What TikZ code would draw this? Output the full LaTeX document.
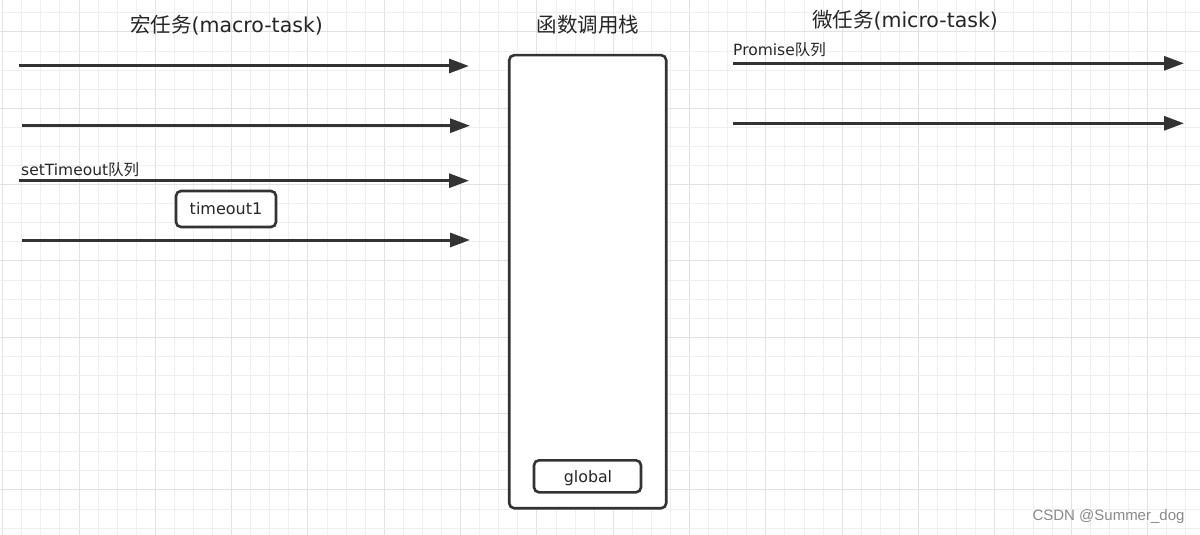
\documentclass[tikz,border=0pt]{standalone}
\usepackage{fontspec}
\setmainfont{DejaVu Sans}
\newfontfamily\cjk{Noto Sans CJK SC}
\newfontfamily\wmfont{Liberation Sans}
\usetikzlibrary{arrows.meta}
\definecolor{ink}{HTML}{333333}
\definecolor{txt}{HTML}{262626}
\definecolor{gminor}{HTML}{EFEFEF}
\definecolor{gmajor}{HTML}{E2E2E2}
\definecolor{wm}{HTML}{8A8A8A}
\tikzset{
  arr/.style={draw=ink, line width=3pt, -{Triangle[length=20pt,width=14pt]}},
  boxed/.style={draw=ink, line width=2.6pt, rounded corners=5pt, fill=white, inner sep=0pt, text=txt},
  titletext/.style={text=txt, inner sep=0pt, font=\fontsize{20.5}{24}\selectfont},
  labeltext/.style={text=txt, inner sep=0pt, font=\fontsize{15.5}{18}\selectfont},
}
\begin{document}
\begin{tikzpicture}[x=1pt,y=-1pt]
\useasboundingbox (0,0) rectangle (1200,535);
\fill[white] (0,0) rectangle (1200,535);
% grid
\foreach \k in {0,...,62} {
  \pgfmathsetmacro{\xx}{2.7+19.08*\k}
  \pgfmathtruncatemacro{\m}{mod(\k,4)}
  \ifnum\m=0 \draw[gmajor, line width=1pt] (\xx,0) -- (\xx,535);
  \else \draw[gminor, line width=1pt] (\xx,0) -- (\xx,535); \fi
}
\foreach \k in {-1,...,26} {
  \pgfmathsetmacro{\yy}{32+19.08*\k}
  \pgfmathtruncatemacro{\m}{mod(\k+4,4)}
  \ifnum\m=0 \draw[gmajor, line width=1pt] (0,\yy) -- (1200,\yy);
  \else \draw[gminor, line width=1pt] (0,\yy) -- (1200,\yy); \fi
}
% titles
\node[titletext] (tmacro) at (226.5,25) {{\cjk 宏任务}(macro-task)};
\node[titletext] (tstack) at (588,25) {\cjk 函数调用栈};
\node[titletext] (tmicro) at (905,20) {{\cjk 微任务}(micro-task)};
% left arrows
\coordinate (l1s) at (19,66);  \coordinate (l1e) at (469,66);
\coordinate (l2s) at (22,125.7); \coordinate (l2e) at (470,125.7);
\coordinate (l3s) at (19,180.7); \coordinate (l3e) at (469,180.7);
\coordinate (l4s) at (22,240); \coordinate (l4e) at (470,240);
\draw[arr] (l1s) -- (l1e);
\draw[arr] (l2s) -- (l2e);
\draw[arr] (l3s) -- (l3e);
\draw[arr] (l4s) -- (l4e);
\node[labeltext, anchor=west] (lset) at (21,170) {setTimeout{\cjk 队列}};
\node[boxed, minimum width=100pt, minimum height=36pt, font=\fontsize{16}{19}\selectfont] (timeout) at (226,209) {timeout1};
% stack
\node[boxed, minimum width=157pt, minimum height=453pt] (stack) at (587.7,281.7) {};
\node[boxed, minimum width=107pt, minimum height=32pt] (global) at (587.5,476.3) {};
\node[text=txt, inner sep=0pt, font=\fontsize{15.8}{19}\selectfont] (globaltext) at (588,478) {global};
% right arrows
\coordinate (r1s) at (733,63.3); \coordinate (r1e) at (1184,63.3);
\coordinate (r2s) at (733,123.3); \coordinate (r2e) at (1184,123.3);
\draw[arr] (r1s) -- (r1e);
\draw[arr] (r2s) -- (r2e);
\node[labeltext, anchor=west] (lprom) at (733,50) {Promise{\cjk 队列}};
% watermark
\node[text=wm, inner sep=0pt, font=\wmfont\fontsize{15}{18}\selectfont] (wmark) at (1108.5,517) {CSDN @Summer\_dog};
\end{tikzpicture}
\end{document}
